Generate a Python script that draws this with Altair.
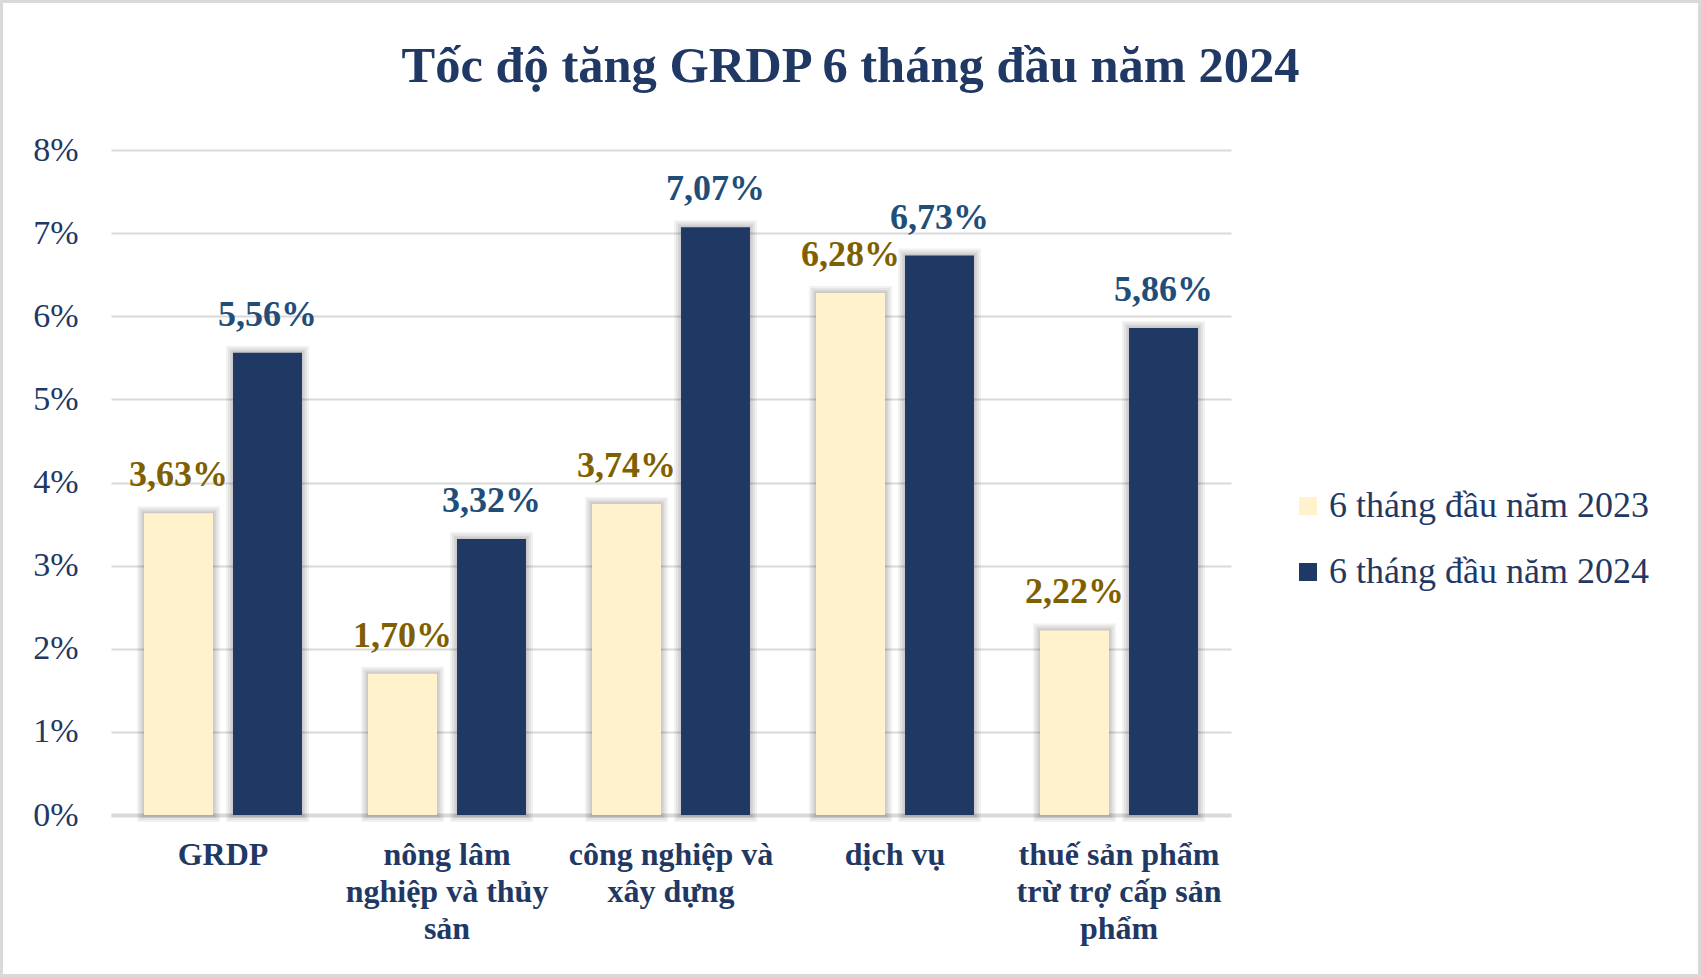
import json

import altair as alt
import pandas as pd

# Sectors, in axis order, with the line breaks used under the axis
categories = [
    "GRDP",
    "nông lâm nghiệp và thủy sản",
    "công nghiệp và xây dựng",
    "dịch vụ",
    "thuế sản phẩm trừ trợ cấp sản phẩm",
]
category_lines = [
    ["GRDP"],
    ["nông lâm", "nghiệp và thủy", "sản"],
    ["công nghiệp và", "xây dựng"],
    ["dịch vụ"],
    ["thuế sản phẩm", "trừ trợ cấp sản", "phẩm"],
]
series = ["6 tháng đầu năm 2023", "6 tháng đầu năm 2024"]
values_2023 = [3.63, 1.70, 3.74, 6.28, 2.22]
values_2024 = [5.56, 3.32, 7.07, 6.73, 5.86]
y_ticks = [0, 1, 2, 3, 4, 5, 6, 7, 8]

title_text = "Tốc độ tăng GRDP 6 tháng đầu năm 2024"

rows = []
for cat, v23, v24 in zip(categories, values_2023, values_2024):
    for s, v in ((series[0], v23), (series[1], v24)):
        rows.append({
            "category": cat,
            "series": s,
            "value": v,
            "label": f"{v:.2f}".replace(".", ",") + "%",
        })
df = pd.DataFrame(rows)

# Multi-line axis labels
label_expr = ""
for cat, lines in zip(categories, category_lines):
    label_expr += f"datum.value == {json.dumps(cat, ensure_ascii=False)} ? {json.dumps(lines, ensure_ascii=False)} : "
label_expr += "datum.value"

SERIF = "Liberation Serif"
NAVY = "#1F3864"
GRID = "#D9D9D9"

PLOT_W, PLOT_H = 1120, 665
PAD_L, PAD_T = 111, 150
TOTAL_W, TOTAL_H = 1701, 977

x_enc = alt.X(
    "category:N",
    sort=categories,
    scale=alt.Scale(paddingInner=0, paddingOuter=0),
    axis=alt.Axis(
        title=None,
        labelExpr=label_expr,
        labelAngle=0,
        labelFont=SERIF,
        labelFontSize=32,
        labelFontWeight="bold",
        labelColor=NAVY,
        labelLineHeight=37,
        labelPadding=24,
        labelLimit=0,
        ticks=False,
        domainColor=GRID,
        domainWidth=4,
    ),
)
xoff_enc = alt.XOffset(
    "series:N", sort=series, scale=alt.Scale(paddingInner=0.225, paddingOuter=0.371)
)
y_enc = alt.Y(
    "value:Q",
    scale=alt.Scale(domain=[0, 8]),
    axis=alt.Axis(
        title=None,
        values=y_ticks,
        labelExpr="datum.value + '%'",
        labelFont=SERIF,
        labelFontSize=34,
        labelColor=NAVY,
        labelPadding=33,
        domain=False,
        ticks=False,
        grid=True,
        gridColor=GRID,
        gridWidth=2,
    ),
)

base = alt.Chart(df)

# Soft shadow: a few faint strokes of growing width behind each bar
shadow_layers = [
    base.mark_bar(
        fill="black", fillOpacity=0, stroke="black", strokeOpacity=0.055, strokeWidth=w
    ).encode(x=x_enc, xOffset=xoff_enc, y=y_enc)
    for w in (14, 10, 6, 3)
]

bars = base.mark_bar().encode(
    x=x_enc,
    xOffset=xoff_enc,
    y=y_enc,
    color=alt.Color(
        "series:N",
        sort=series,
        scale=alt.Scale(domain=series, range=["#FFF2CC", "#203864"]),
        legend=alt.Legend(
            title=None,
            orient="none",
            legendX=1179,
            legendY=338,
            padding=0,
            symbolType="square",
            symbolSize=324,
            symbolStrokeWidth=0,
            labelFont=SERIF,
            labelFontSize=36,
            labelColor=NAVY,
            labelOffset=3,
            rowPadding=30,
            labelLimit=0,
        ),
    ),
)

labels = base.mark_text(
    baseline="alphabetic",
    dy=-27,
    font=SERIF,
    fontSize=36,
    fontWeight="bold",
).encode(
    x=alt.X("category:N", sort=categories),
    xOffset=alt.XOffset("series:N", sort=series),
    y=alt.Y("value:Q"),
    text="label:N",
    color=alt.condition(
        alt.datum.series == series[0], alt.value("#7F6000"), alt.value("#1F4E79")
    ),
)

single = pd.DataFrame({"t": [title_text]})

# Chart title, centred on the whole figure
title = alt.Chart(single).mark_text(
    font=SERIF, fontSize=50.5, fontWeight="bold", color=NAVY, baseline="middle", align="center"
).encode(
    text="t:N",
    x=alt.value(TOTAL_W / 2 - PAD_L),
    y=alt.value(67 - PAD_T),
)

# Light border around the whole figure
frame = alt.Chart(single).mark_rect(
    fill=None, stroke=GRID, strokeWidth=3
).encode(
    x=alt.value(-PAD_L + 1.5),
    x2=alt.value(TOTAL_W - PAD_L - 1.5),
    y=alt.value(-PAD_T + 1.5),
    y2=alt.value(TOTAL_H - PAD_T - 1.5),
)

chart = (
    alt.layer(*shadow_layers, bars, labels, title, frame)
    .properties(
        width=PLOT_W,
        height=PLOT_H,
        autosize=alt.AutoSizeParams(type="none"),
        padding={"left": PAD_L, "top": PAD_T, "right": TOTAL_W - PAD_L - PLOT_W,
                 "bottom": TOTAL_H - PAD_T - PLOT_H},
        background="white",
    )
    .configure_view(stroke=None)
)

chart.save("out.html", embed_options={"renderer": "svg", "actions": False})
